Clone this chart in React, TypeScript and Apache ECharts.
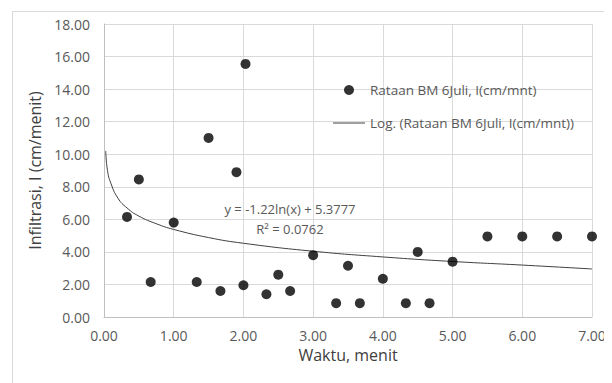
import React, { useEffect, useRef } from "react";
import * as echarts from "echarts";

const seriesName = "Rataan BM 6Juli, I(cm/mnt)";
const trendName = "Log. (Rataan BM 6Juli, I(cm/mnt))";
const waktu = [0.33, 0.5, 0.67, 1.0, 1.33, 1.5, 1.67, 1.9, 2.0, 2.03, 2.33, 2.5, 2.67, 3.0, 3.33, 3.5, 3.67, 4.0, 4.33, 4.5, 4.67, 5.0, 5.5, 6.0, 6.5, 7.0];
const infiltrasi = [6.15, 8.45, 2.15, 5.8, 2.15, 11.0, 1.6, 8.9, 1.95, 15.55, 1.4, 2.6, 1.6, 3.8, 0.85, 3.15, 0.85, 2.35, 0.85, 4.0, 0.85, 3.4, 4.95, 4.95, 4.95, 4.95];
const trendX = [0.025, 0.05, 0.1, 0.2, 0.33, 0.5, 0.75, 1.0, 1.5, 2.0, 3.0, 4.0, 5.0, 6.0, 7.0];
const trendY = [10.2, 9.0, 8.2, 7.3, 6.7, 6.2, 5.73, 5.38, 4.88, 4.53, 4.04, 3.69, 3.41, 3.19, 2.95];
const equationText = "y = -1.22ln(x) + 5.3777";
const r2Text = "R² = 0.0762";
const xTitle = "Waktu, menit";
const yTitle = "Infiltrasi, I (cm/menit)";

const FONT = '"Open Sans", sans-serif';
const GRAY = "#595959";

export default function App() {
  const ref = useRef<HTMLDivElement>(null);
  useEffect(() => {
    if (!ref.current) return;
    const chart = echarts.init(ref.current, null, { renderer: "svg" });
    chart.setOption({
      animation: false,
      backgroundColor: "#ffffff",
      textStyle: { fontFamily: FONT },
      grid: { left: 104, top: 24, right: 20, bottom: 66 },
      legend: {
        orient: "vertical",
        left: 333,
        top: 83,
        padding: 0,
        itemWidth: 32,
        itemHeight: 10,
        itemGap: 19,
        textStyle: { color: GRAY, fontSize: 13.5, fontFamily: FONT },
        data: [
          { name: seriesName, icon: "circle" },
          {
            name: trendName,
            icon: "path://M0,0 L0,0 M0,4.5 L32,4.5 L32,5.5 L0,5.5 Z M0,10 L0,10",
          },
        ],
      },
      xAxis: {
        type: "value",
        min: 0,
        max: 7,
        interval: 1,
        name: xTitle,
        nameLocation: "middle",
        nameGap: 30,
        nameTextStyle: { color: "#404040", fontSize: 16, fontFamily: FONT },
        axisLine: { show: true, lineStyle: { color: "#bfbfbf", width: 1 } },
        axisTick: { show: false },
        axisLabel: {
          color: GRAY,
          fontSize: 14,
          margin: 11,
          formatter: (v: number) => v.toFixed(2),
        },
        splitLine: { show: true, lineStyle: { color: "#d9d9d9", width: 1 } },
      },
      yAxis: {
        type: "value",
        min: 0,
        max: 18,
        interval: 2,
        name: yTitle,
        nameLocation: "middle",
        nameGap: 58,
        nameTextStyle: { color: "#404040", fontSize: 16, fontFamily: FONT },
        axisLine: { show: true, lineStyle: { color: "#bfbfbf", width: 1 } },
        axisTick: { show: false },
        axisLabel: {
          color: GRAY,
          fontSize: 14,
          margin: 14,
          formatter: (v: number) => v.toFixed(2),
        },
        splitLine: { show: true, lineStyle: { color: "#d9d9d9", width: 1 } },
      },
      graphic: [
        {
          type: "line",
          shape: { x1: 12.5, y1: 11.5, x2: 612, y2: 11.5 },
          style: { stroke: "#d9d9d9", lineWidth: 1 },
          silent: true,
          z: 10,
        },
        {
          type: "line",
          shape: { x1: 12.5, y1: 11.5, x2: 12.5, y2: 383 },
          style: { stroke: "#d9d9d9", lineWidth: 1 },
          silent: true,
          z: 10,
        },
        {
          type: "text",
          x: 290,
          y: 209,
          z: 10,
          style: {
            text: equationText,
            fill: GRAY,
            font: `13px ${FONT}`,
            align: "center",
            verticalAlign: "middle",
          },
        },
        {
          type: "text",
          x: 290,
          y: 229,
          z: 10,
          style: {
            text: r2Text,
            fill: GRAY,
            font: `13px ${FONT}`,
            align: "center",
            verticalAlign: "middle",
          },
        },
      ],
      series: [
        {
          name: trendName,
          type: "line",
          data: trendX.map((x, i) => [x, trendY[i]]),
          symbol: "none",
          smooth: true,
          lineStyle: { color: "#404040", width: 1 },
          itemStyle: { color: "#404040" },
          z: 1,
        },
        {
          name: seriesName,
          type: "scatter",
          data: waktu.map((x, i) => [x, infiltrasi[i]]),
          symbol: "circle",
          symbolSize: 10,
          itemStyle: { color: "#000000" },
          z: 3,
        },
      ],
    });
    return () => chart.dispose();
  }, []);
  return (
    <div style={{ position: "relative", width: 612, height: 383, marginLeft: -8, marginTop: -8, overflow: "hidden" }}>
      <div ref={ref} style={{ position: "absolute", left: 0, top: 0, width: 612, height: 383 }} />
    </div>
  );
}
